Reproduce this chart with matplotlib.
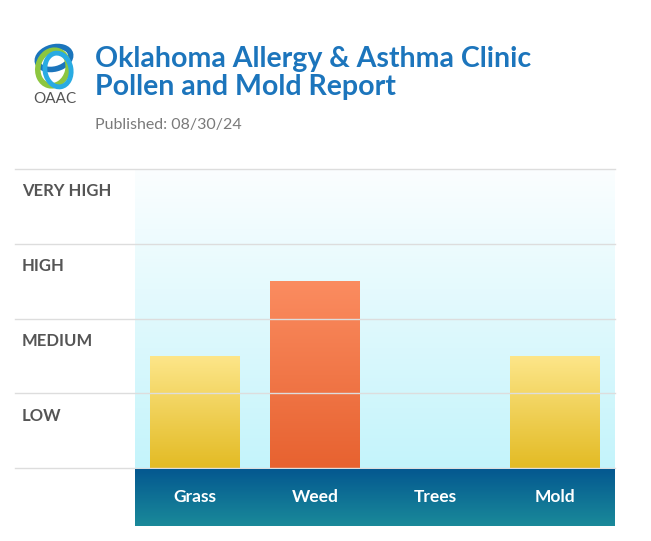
import matplotlib.pyplot as plt
import numpy as np
from matplotlib.colors import LinearSegmentedColormap
from matplotlib.patches import Ellipse

plt.rcParams["font.family"] = ["Lato", "DejaVu Sans"]

categories = ["Grass", "Weed", "Trees", "Mold"]
levels = [1.5, 2.5, 0.0, 1.5]
level_names = ["LOW", "MEDIUM", "HIGH", "VERY HIGH"]
level_ticks = [1, 2, 3, 4]
published = "08/30/24"

W, H = 651, 541
fig = plt.figure(figsize=(W / 100, H / 100), dpi=100)
fig.patch.set_facecolor("white")

# main chart area (pixel box 135..615 x 169..468)
ax = fig.add_axes([135 / W, (H - 468) / H, 480 / W, 299 / H])
ax.set_xlim(-0.5, len(categories) - 0.5)
ax.set_ylim(0, 4)
ax.axis("off")

bg = LinearSegmentedColormap.from_list("bg", ["#c4f4fb", "#fbfeff"])
grad = np.linspace(0, 1, 256).reshape(-1, 1)
ax.imshow(grad, cmap=bg, origin="lower", aspect="auto",
          extent=[-0.5, len(categories) - 0.5, 0, 4], zorder=0)

yellow = LinearSegmentedColormap.from_list("y", ["#e3bb24", "#fde68a"])
orange = LinearSegmentedColormap.from_list("o", ["#e76230", "#fb8c60"])

bars = ax.bar(range(len(categories)), levels, width=0.75, color="none", zorder=1)
for b, v in zip(bars, levels):
    if v <= 0:
        continue
    cmap = orange if v >= 2.5 else yellow
    x0 = b.get_x()
    im = ax.imshow(grad, cmap=cmap, origin="lower", aspect="auto",
                   extent=[x0, x0 + b.get_width(), 0, v], zorder=1)
    im.set_clip_path(b)

left_frac = -(135 - 15) / 480
for t in [0] + level_ticks:
    ax.axhline(t, xmin=left_frac, xmax=1, color="#dddddd", lw=1.0,
               clip_on=False, zorder=3)
for t, name in zip(level_ticks, level_names):
    fig.text(22 / W, (H - (169 + 75 * (4 - t) + 22)) / H, name,
             fontsize=12, fontweight="bold", color="#555555", va="center")

# category band
bax = fig.add_axes([135 / W, (H - 526) / H, 480 / W, 57 / H])
bax.set_xlim(-0.5, len(categories) - 0.5)
bax.set_ylim(0, 1)
bax.axis("off")
band = LinearSegmentedColormap.from_list("band", ["#1a8a9a", "#045890"])
bax.imshow(grad, cmap=band, origin="lower", aspect="auto",
           extent=[-0.5, len(categories) - 0.5, 0, 1])
for i, c in enumerate(categories):
    bax.text(i, 0.5, c, color="white", fontsize=12.5, fontweight="bold",
             ha="center", va="center")

# header
fig.text(95 / W, (H - 59) / H, "Oklahoma Allergy & Asthma Clinic",
         fontsize=20.5, fontweight="bold", color="#1c75bc", va="center")
fig.text(95 / W, (H - 87) / H, "Pollen and Mold Report",
         fontsize=20.5, fontweight="bold", color="#1c75bc", va="center")
fig.text(95 / W, (H - 125) / H, "Published: " + published,
         fontsize=11.5, color="#7a7a7a", va="center")

# logo
lax = fig.add_axes([28 / W, (H - 106) / H, 56 / W, 66 / H])
lax.set_xlim(0, 56)
lax.set_ylim(66, 0)
lax.set_aspect("equal")
lax.axis("off")
lax.add_patch(Ellipse((26, 18), 34, 22, angle=-15, fill=False, ec="#1b75bc", lw=4))
lax.add_patch(Ellipse((25, 28), 30, 36, angle=15, fill=False, ec="#8dc63f", lw=4))
lax.add_patch(Ellipse((30, 30), 26, 34, angle=-10, fill=False, ec="#29abe2", lw=3.5))
lax.text(27, 59, "OAAC", ha="center", va="center", fontsize=11, color="#555555")

fig.savefig("out.png", dpi=100)
